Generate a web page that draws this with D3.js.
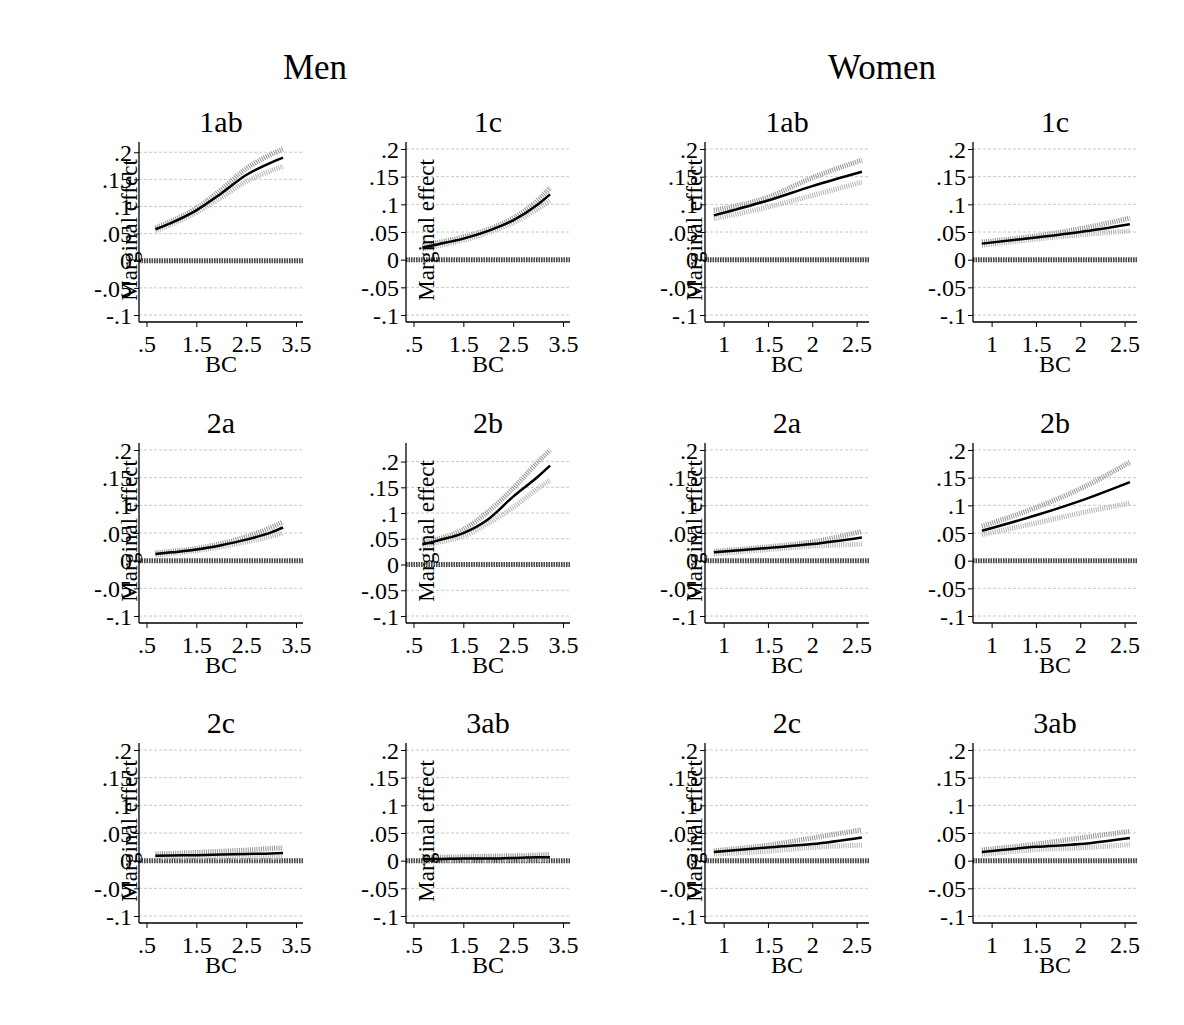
<!DOCTYPE html>
<html><head><meta charset="utf-8">
<script src="https://cdn.jsdelivr.net/npm/d3@7"></script>
<style>
body{margin:0;background:#fff}
svg{display:block}
text{font-family:"Liberation Serif","Times New Roman",serif;fill:#000}
</style>
</head><body>
<svg id="c" width="1184" height="1025"></svg>
<script>
// ---------- data ----------
const groups = ["Men", "Women"];
const panelNames = ["1ab", "1c", "2a", "2b", "2c", "3ab"];
const menBC   = [0.68, 1.0, 1.5, 2.0, 2.5, 3.0, 3.24];
const womenBC = [0.89, 1.5, 2.0, 2.56];

const men_1ab_est = [0.058, 0.070, 0.093, 0.124, 0.158, 0.181, 0.190];
const men_1ab_hi  = [0.061, 0.073, 0.097, 0.131, 0.170, 0.196, 0.206];
const men_1ab_lo  = [0.055, 0.067, 0.089, 0.117, 0.146, 0.166, 0.174];
const men_1c_est  = [0.022, 0.028, 0.038, 0.052, 0.071, 0.100, 0.118];
const men_1c_hi   = [0.025, 0.031, 0.041, 0.055, 0.075, 0.108, 0.130];
const men_1c_lo   = [0.019, 0.025, 0.035, 0.049, 0.067, 0.092, 0.107];
const men_2a_est  = [0.012, 0.015, 0.020, 0.028, 0.038, 0.051, 0.060];
const men_2a_hi   = [0.014, 0.017, 0.022, 0.031, 0.043, 0.060, 0.070];
const men_2a_lo   = [0.010, 0.013, 0.018, 0.025, 0.034, 0.044, 0.050];
const men_2b_est  = [0.039, 0.047, 0.061, 0.088, 0.132, 0.171, 0.192];
const men_2b_hi   = [0.042, 0.050, 0.068, 0.103, 0.148, 0.200, 0.2225];
const men_2b_lo   = [0.036, 0.043, 0.055, 0.080, 0.111, 0.148, 0.164];
const men_2c_est  = [0.009, 0.0095, 0.010, 0.011, 0.012, 0.013, 0.014];
const men_2c_hi   = [0.012, 0.013, 0.015, 0.017, 0.019, 0.022, 0.023];
const men_2c_lo   = [0.006, 0.006, 0.006, 0.006, 0.006, 0.006, 0.006];
const men_3ab_est = [0.003, 0.003, 0.004, 0.004, 0.005, 0.006, 0.006];
const men_3ab_hi  = [0.005, 0.006, 0.007, 0.008, 0.009, 0.010, 0.011];
const men_3ab_lo  = [0.001, 0.001, 0.001, 0.001, 0.002, 0.002, 0.002];

const women_1ab_est = [0.080, 0.107, 0.133, 0.159];
const women_1ab_hi  = [0.089, 0.113, 0.148, 0.180];
const women_1ab_lo  = [0.074, 0.095, 0.116, 0.140];
const women_1c_est  = [0.029, 0.040, 0.050, 0.064];
const women_1c_hi   = [0.032, 0.043, 0.056, 0.075];
const women_1c_lo   = [0.026, 0.037, 0.045, 0.052];
const women_2a_est  = [0.015, 0.023, 0.030, 0.042];
const women_2a_hi   = [0.017, 0.025, 0.034, 0.053];
const women_2a_lo   = [0.012, 0.020, 0.026, 0.030];
const women_2b_est  = [0.054, 0.082, 0.108, 0.142];
const women_2b_hi   = [0.062, 0.096, 0.130, 0.178];
const women_2b_lo   = [0.047, 0.068, 0.086, 0.104];
const women_2c_est  = [0.0156, 0.024, 0.030, 0.042];
const women_2c_hi   = [0.018, 0.028, 0.041, 0.056];
const women_2c_lo   = [0.012, 0.017, 0.024, 0.028];
const women_3ab_est = [0.0156, 0.025, 0.030, 0.041];
const women_3ab_hi  = [0.0195, 0.030, 0.041, 0.053];
const women_3ab_lo  = [0.011, 0.020, 0.023, 0.029];

const yTicks = [-0.1, -0.05, 0, 0.05, 0.1, 0.15, 0.2];
const yTickLabels = ["-.1", "-.05", "0", ".05", ".1", ".15", ".2"];
const menXTicks = [0.5, 1.5, 2.5, 3.5];
const menXTickLabels = [".5", "1.5", "2.5", "3.5"];
const womenXTicks = [1, 1.5, 2, 2.5];
const womenXTickLabels = ["1", "1.5", "2", "2.5"];
const xTitle = "BC";
const yTitle = "Marginal effect";

// ---------- layout ----------
const colLeft = [139, 406, 705, 973];
const rowTop = [142, 443, 743];
const PW = 164, PH = 180, PAD = 7;
const yTitleOffset = [-2, 28, -3, null];
const groupTitleX = [315, 882];

const series = {
  Men: {
    "1ab": [men_1ab_est, men_1ab_hi, men_1ab_lo], "1c": [men_1c_est, men_1c_hi, men_1c_lo],
    "2a": [men_2a_est, men_2a_hi, men_2a_lo], "2b": [men_2b_est, men_2b_hi, men_2b_lo],
    "2c": [men_2c_est, men_2c_hi, men_2c_lo], "3ab": [men_3ab_est, men_3ab_hi, men_3ab_lo]
  },
  Women: {
    "1ab": [women_1ab_est, women_1ab_hi, women_1ab_lo], "1c": [women_1c_est, women_1c_hi, women_1c_lo],
    "2a": [women_2a_est, women_2a_hi, women_2a_lo], "2b": [women_2b_est, women_2b_hi, women_2b_lo],
    "2c": [women_2c_est, women_2c_hi, women_2c_lo], "3ab": [women_3ab_est, women_3ab_hi, women_3ab_lo]
  }
};

const svg = d3.select("#c");
svg.append("rect").attr("width", 1184).attr("height", 1025).attr("fill", "#fff");

groups.forEach((g, gi) => {
  svg.append("text").attr("x", groupTitleX[gi]).attr("y", 79)
    .attr("text-anchor", "middle").style("font-size", "35px").text(g);
});

groups.forEach((g, gi) => {
  const bc = g === "Men" ? menBC : womenBC;
  const xDom = g === "Men" ? [0.35, 3.64] : [0.79, 2.64];
  const xt = g === "Men" ? menXTicks : womenXTicks;
  const xtl = g === "Men" ? menXTickLabels : womenXTickLabels;
  panelNames.forEach((name, pi) => {
    const col = gi * 2 + (pi % 2);
    const row = Math.floor(pi / 2);
    const x0 = colLeft[col], y0 = rowTop[row];
    const [est, hi, lo] = series[g][name];
    const yMax = Math.max(0.2, d3.max(hi));
    const yMin = Math.min(-0.1, d3.min(lo));
    const x = d3.scaleLinear().domain(xDom).range([0, PW]);
    const y = d3.scaleLinear().domain([yMin, yMax]).range([PH - PAD, PAD]);
    const p = svg.append("g").attr("transform", `translate(${x0},${y0})`);

    // title
    p.append("text").attr("x", PW / 2).attr("y", -10).attr("text-anchor", "middle")
      .style("font-size", "30px").text(name);

    // gridlines
    p.selectAll(".grid").data(yTicks.filter(t => t !== 0)).enter().append("line")
      .attr("x1", 0).attr("x2", PW).attr("y1", d => y(d)).attr("y2", d => y(d))
      .attr("stroke", "#c8c8c8").attr("stroke-width", 1).attr("stroke-dasharray", "3,2");

    // zero line
    p.append("line").attr("x1", 0).attr("x2", PW).attr("y1", y(0)).attr("y2", y(0))
      .attr("stroke", "#4a4a4a").attr("stroke-width", 5).attr("stroke-dasharray", "1.6,0.9");

    const line = vals => d3.line().x((d, i) => x(bc[i])).y(d => y(d)).curve(d3.curveMonotoneX)(vals);
    // CI hatched
    p.append("path").attr("d", line(lo)).attr("fill", "none")
      .attr("stroke", "#b4b4b4").attr("stroke-width", 5).attr("stroke-dasharray", "1,1.2");
    p.append("path").attr("d", line(hi)).attr("fill", "none")
      .attr("stroke", "#929292").attr("stroke-width", 5).attr("stroke-dasharray", "1,1.2");
    // estimate
    p.append("path").attr("d", line(est)).attr("fill", "none")
      .attr("stroke", "#000").attr("stroke-width", 2.5);

    // axes
    const ya = d3.axisLeft(y).tickValues(yTicks).tickFormat((d, i) => yTickLabels[i]).tickSize(5).tickPadding(2);
    const yg = p.append("g").call(ya);
    yg.select(".domain").attr("d", `M0,0V${PH}`).attr("stroke", "#000").attr("stroke-width", 1.3);
    yg.selectAll("text").style("font-size", "24px").attr("font-family", null).attr("dy", "0.34em");
    yg.selectAll(".tick line").attr("stroke", "#000");

    const xa = d3.axisBottom(x).tickValues(xt).tickFormat((d, i) => xtl[i]).tickSize(5).tickPadding(4);
    const xg = p.append("g").attr("transform", `translate(0,${PH})`).call(xa);
    xg.select(".domain").attr("d", `M0,0H${PW}`).attr("stroke", "#000").attr("stroke-width", 1.3);
    xg.selectAll("text").style("font-size", "24px").attr("font-family", null).attr("dy", null).attr("y", 30);
    xg.selectAll(".tick line").attr("stroke", "#000");

    p.append("text").attr("x", PW / 2).attr("y", PH + 50).attr("text-anchor", "middle")
      .style("font-size", "24px").text(xTitle);

    if (yTitleOffset[col] !== null) {
      p.append("text").attr("transform", `translate(${yTitleOffset[col]},${PH / 2 - 2}) rotate(-90)`)
        .attr("text-anchor", "middle").style("font-size", "23px").text(yTitle);
    }
  });
});
</script>
</body></html>
